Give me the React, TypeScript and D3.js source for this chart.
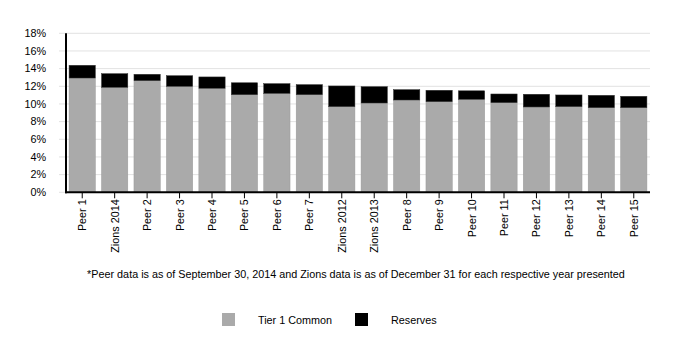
import React from "react";
import * as d3 from "d3";

const categories = ["Peer 1","Zions 2014","Peer 2","Peer 3","Peer 4","Peer 5","Peer 6","Peer 7","Zions 2012","Zions 2013","Peer 8","Peer 9","Peer 10","Peer 11","Peer 12","Peer 13","Peer 14","Peer 15"];
const tier1 = [12.94,11.89,12.64,12.0,11.78,11.05,11.2,11.05,9.7,10.11,10.45,10.26,10.53,10.15,9.66,9.7,9.58,9.58];
const reserves = [1.44,1.54,0.72,1.2,1.28,1.35,1.1,1.14,2.34,1.85,1.17,1.29,0.96,0.98,1.44,1.32,1.4,1.29];
const yTicks = [0,2,4,6,8,10,12,14,16,18];
const seriesNames = ["Tier 1 Common","Reserves"];
const seriesColors = ["#aaaaaa","#000000"];
const footnote = "*Peer data is as of September 30, 2014 and Zions data is as of December 31 for each respective year presented";

export default function App() {
  const W = 684, H = 356;
  const left = 66, right = 650, top = 33.3, bottom = 192.3;
  const x = d3.scaleBand<string>().domain(categories).range([left, right]).paddingInner(0.19).paddingOuter(0.095);
  const y = d3.scaleLinear().domain([0, 18]).range([bottom, top]);
  const font = "Liberation Sans, Arial, sans-serif";
  const fs = 10.8;
  return (
    <svg width={W} height={H} style={{ position: "absolute", left: 0, top: 0 }} fontFamily={font}>
      {yTicks.map(t => (
        <g key={t}>
          <line x1={59} x2={right} y1={y(t)} y2={y(t)} stroke="#e2e2e2" strokeWidth={1} />
          <text x={46} y={y(t)} dy="0.35em" textAnchor="end" fontSize={fs} fill="#000">{t}%</text>
        </g>
      ))}
      {categories.map((c, i) => {
        const bx = x(c)!;
        const bw = x.bandwidth();
        return (
          <g key={c}>
            <rect x={bx} y={y(tier1[i])} width={bw} height={y(0) - y(tier1[i])} fill={seriesColors[0]} stroke="#9a9a9a" strokeWidth={0.5} />
            <rect x={bx} y={y(tier1[i] + reserves[i])} width={bw} height={y(tier1[i]) - y(tier1[i] + reserves[i])} fill={seriesColors[1]} stroke="#333" strokeWidth={0.5} />
            <line x1={bx + bw / 2} x2={bx + bw / 2} y1={bottom} y2={bottom + 6} stroke="#000" strokeWidth={1} />
            <text transform={`translate(${bx + bw / 2 + 4},${bottom + 7}) rotate(-90)`} textAnchor="end" fontSize={fs} fill="#000">{c}</text>
          </g>
        );
      })}
      <line x1={left} x2={left} y1={top} y2={bottom + 1} stroke="#000" strokeWidth={2} />
      <line x1={left - 1} x2={right} y1={bottom} y2={bottom} stroke="#000" strokeWidth={2} />
      <text x={356} y={277.5} textAnchor="middle" fontSize={fs} fill="#000">{footnote}</text>
      <rect x={222} y={313} width={13} height={13} fill={seriesColors[0]} />
      <text x={258} y={323.5} fontSize={fs} fill="#000">{seriesNames[0]}</text>
      <rect x={355} y={313} width={13} height={13} fill={seriesColors[1]} />
      <text x={391} y={323.5} fontSize={fs} fill="#000">{seriesNames[1]}</text>
    </svg>
  );
}
